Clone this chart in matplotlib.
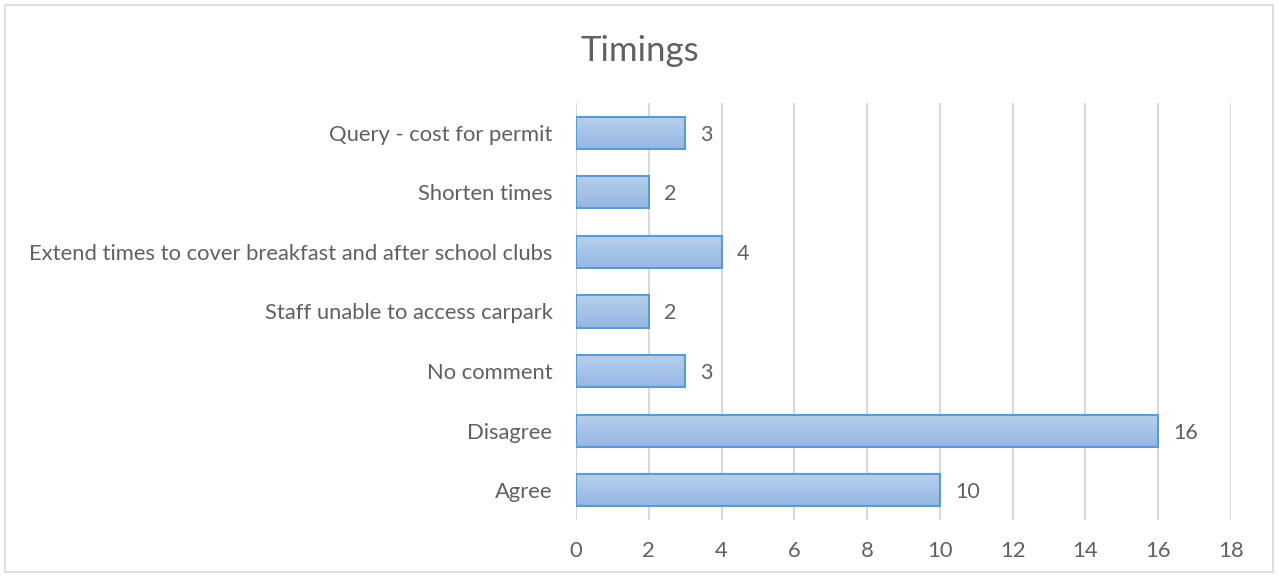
import numpy as np
import matplotlib.pyplot as plt
from matplotlib.patches import Rectangle
from matplotlib.colors import LinearSegmentedColormap

plt.rcParams['font.family'] = ['Lato', 'DejaVu Sans']

# Data (bottom to top)
categories = ['Agree', 'Disagree', 'No comment', 'Staff unable to access carpark',
              'Extend times to cover breakfast and after school clubs',
              'Shorten times', 'Query - cost for permit']
values = [10, 16, 3, 2, 4, 2, 3]
xticks = [0, 2, 4, 6, 8, 10, 12, 14, 16, 18]

text_col = '#606060'

fig = plt.figure(figsize=(12.79, 5.77), dpi=100)
fig.patches.append(Rectangle((0.004, 0.008), 0.991, 0.984, transform=fig.transFigure,
                             fill=False, edgecolor='#d9d9d9', linewidth=1.2))
ax = fig.add_axes([0.4504, 0.0988, 0.5121, 0.7227])

y = np.arange(len(categories))
bars = ax.barh(y, values, height=0.54, color='none', edgecolor='#5b9bd5',
               linewidth=1.5, zorder=3)

# gradient fill inside each bar: darker at the bottom, lighter at the top
grad = np.linspace(0, 1, 64).reshape(-1, 1)  # row 0 = dark
cmap = LinearSegmentedColormap.from_list('g', ['#95b7e3', '#b8d0ec'])
for b in bars:
    x0, y0 = b.get_x(), b.get_y()
    w, h = b.get_width(), b.get_height()
    im = ax.imshow(grad, extent=[x0, x0 + w, y0, y0 + h], cmap=cmap,
                   aspect='auto', zorder=2, origin='lower')
    im.set_clip_path(b)

for yi, v in zip(y, values):
    ax.text(v + 0.42, yi, str(v), va='center_baseline', ha='left',
            color=text_col, fontsize=15.5)

ax.set_xlim(0, 18)
ax.set_ylim(-0.5, len(categories) - 0.5)
ax.set_xticks(xticks)
ax.set_yticks(y)
ax.set_yticklabels(categories, va='center_baseline')
ax.tick_params(axis='both', length=0, colors=text_col, labelsize=15.8)
ax.tick_params(axis='x', pad=15)
ax.tick_params(axis='y', pad=17)
ax.grid(axis='x', color='#d9d9d9', linewidth=1.5, zorder=0)
ax.set_axisbelow(True)
for s in ax.spines.values():
    s.set_visible(False)

fig.text(0.5, 0.912, 'Timings', ha='center', va='center', fontsize=25, color=text_col)

fig.savefig('out.png', dpi=100)
